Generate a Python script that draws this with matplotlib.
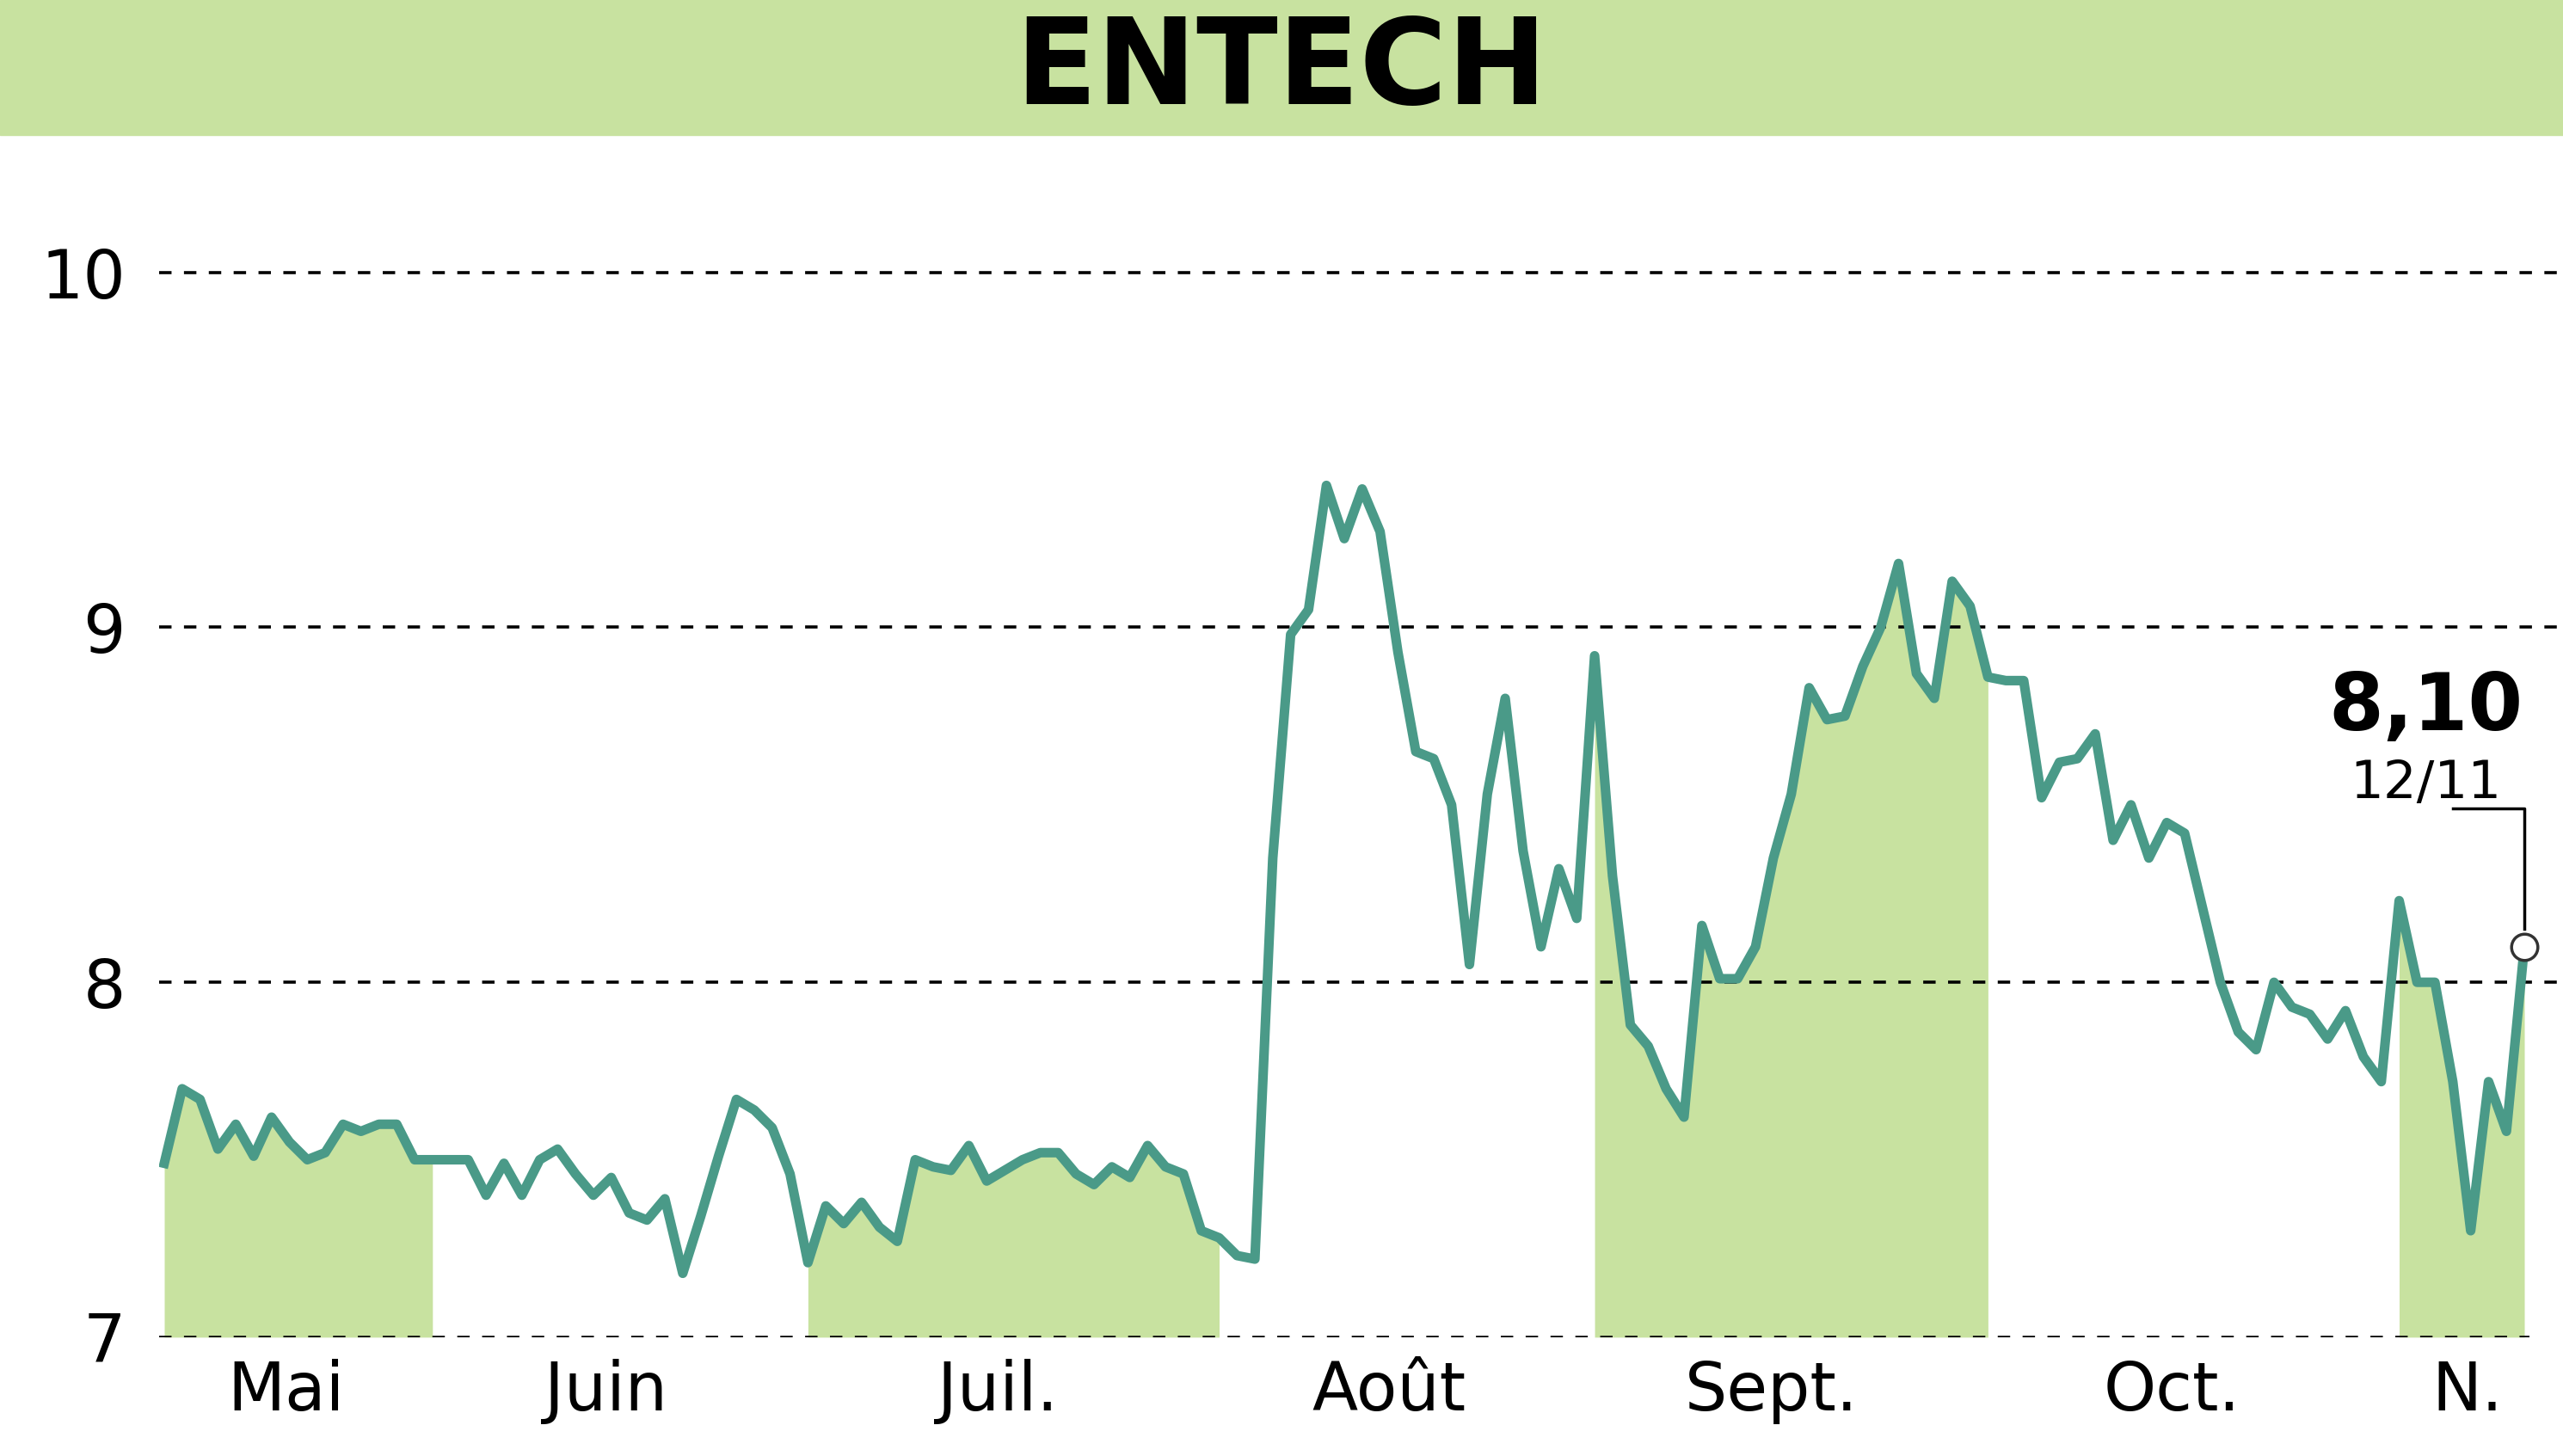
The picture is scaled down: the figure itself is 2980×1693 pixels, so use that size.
import matplotlib.pyplot as plt
from matplotlib.patches import Rectangle

prices = [7.49, 7.70, 7.67, 7.53, 7.60, 7.51, 7.62, 7.55, 7.50, 7.52, 7.60, 7.58, 7.60, 7.60, 7.50, 7.50,
          7.50, 7.50, 7.40, 7.49, 7.40, 7.50, 7.53, 7.46, 7.40, 7.45, 7.35, 7.33, 7.39, 7.18, 7.34, 7.51,
          7.67, 7.64, 7.59, 7.46, 7.21, 7.37, 7.32, 7.38, 7.31, 7.27, 7.50, 7.48, 7.47, 7.54, 7.44, 7.47,
          7.50, 7.52, 7.52, 7.46, 7.43, 7.48, 7.45, 7.54, 7.48, 7.46, 7.30, 7.28, 7.23, 7.22, 8.35, 8.98,
          9.05, 9.40, 9.25, 9.39, 9.27, 8.93, 8.65, 8.63, 8.50, 8.05, 8.53, 8.80, 8.37, 8.10, 8.32, 8.18,
          8.92, 8.30, 7.88, 7.82, 7.70, 7.62, 8.16, 8.01, 8.01, 8.10, 8.35, 8.53, 8.83, 8.74, 8.75, 8.89,
          9.00, 9.18, 8.87, 8.80, 9.13, 9.06, 8.86, 8.85, 8.85, 8.52, 8.62, 8.63, 8.70, 8.40, 8.50, 8.35,
          8.45, 8.42, 8.21, 8.00, 7.86, 7.81, 8.00, 7.93, 7.91, 7.84, 7.92, 7.79, 7.72, 8.23, 8.00, 8.00,
          7.72, 7.30, 7.72, 7.58, 8.10]
shaded = [(0, 15), (36, 59), (80, 102), (125, 132)]
month_labels = ['Mai', 'Juin', 'Juil.', 'Août', 'Sept.', 'Oct.', 'N.']
month_pos = [6.8, 24.7, 46.6, 68.5, 89.9, 112.3, 128.8]
yticks = [7, 8, 9, 10]

green = '#c8e2a0'
teal = '#4a9a88'
fam = ['Liberation Sans Narrow', 'DejaVu Sans']

fig = plt.figure(figsize=(29.8, 16.93), dpi=100)
fig.patches.append(Rectangle((0, 0.907), 1, 0.093, transform=fig.transFigure, color=green, zorder=0))
fig.text(0.5, 0.951, 'ENTECH', ha='center', va='center', fontsize=100, fontweight='bold', family=fam)

ax = fig.add_axes([0.062, 0.0816, 0.925, 0.8044])
x = list(range(len(prices)))
last = len(prices) - 1
for a, b in shaded:
    ax.fill_between(x[a:b + 1], 7, prices[a:b + 1], color=green, lw=0)
for v in yticks[1:]:
    ax.plot([-0.3, last + 2], [v, v], ls=(0, (4, 4)), color='black', lw=2.6, clip_on=False, zorder=1)
ax.plot([-0.3, last + 0.3], [7, 7], ls=(0, (4, 4)), color='black', lw=2.6, zorder=1)
ax.plot(x, prices, color=teal, lw=8, solid_joinstyle='round', zorder=3)

ax.plot([last - 4, last, last], [8.49, 8.49, prices[-1] + 0.05], color='black', lw=2.5, zorder=3)
ax.plot([last], [prices[-1]], 'o', ms=22, mfc='white', mec='#333333', mew=2.5, zorder=5, clip_on=False)
ax.text(last - 5.5, 8.52, '12/11', ha='center', va='baseline', fontsize=44, family=fam)
ax.text(last - 5.5, 8.71, '8,10', ha='center', va='baseline', fontsize=66, fontweight='bold', family=fam)

ax.set_xlim(-0.3, last + 0.3)
ax.set_ylim(7, 10.3)
ax.set_yticks(yticks)
ax.set_yticklabels([str(v) for v in yticks], fontsize=56, family=fam)
ax.set_xticks(month_pos)
ax.set_xticklabels(month_labels, fontsize=56, family=fam)
ax.tick_params(length=0, pad=18)
ax.tick_params(axis='y', pad=28)
for s in ax.spines.values():
    s.set_visible(False)
ax.patch.set_alpha(0)

fig.savefig('out.png')
